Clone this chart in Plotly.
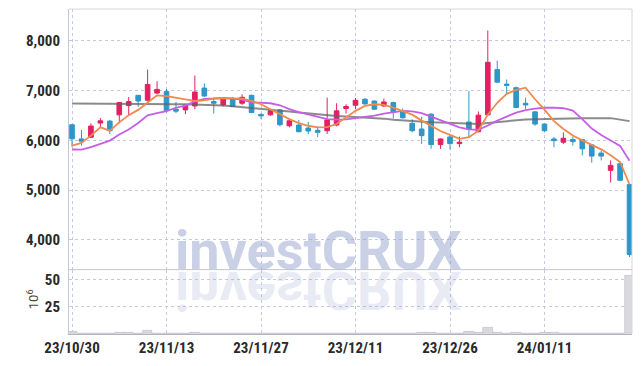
import plotly.graph_objects as go

dates = ["23/10/30", "23/10/31", "23/11/01", "23/11/02", "23/11/03", "23/11/06", "23/11/07", "23/11/08", "23/11/09", "23/11/10",
         "23/11/13", "23/11/14", "23/11/15", "23/11/16", "23/11/17", "23/11/20", "23/11/21", "23/11/22", "23/11/23", "23/11/24",
         "23/11/27", "23/11/28", "23/11/29", "23/11/30", "23/12/01", "23/12/04", "23/12/05", "23/12/06", "23/12/07", "23/12/08",
         "23/12/11", "23/12/12", "23/12/13", "23/12/14", "23/12/15", "23/12/18", "23/12/19", "23/12/20", "23/12/21", "23/12/22",
         "23/12/26", "23/12/27", "23/12/28", "24/01/02", "24/01/03", "24/01/04", "24/01/05", "24/01/08", "24/01/09", "24/01/10",
         "24/01/11", "24/01/12", "24/01/15", "24/01/16", "24/01/17", "24/01/18", "24/01/19", "24/01/22", "24/01/23", "24/01/24"]

open_ = [6313, 6028, 6062, 6347, 6386, 6512, 6699, 6904, 6805, 6950,
         6980, 6626, 6612, 6691, 7050, 6779, 6711, 6839, 6745, 6904,
         6520, 6512, 6612, 6293, 6307, 6247, 6201, 6193, 6307, 6639,
         6705, 6825, 6790, 6691, 6759, 6572, 6341, 6227, 6526, 5914,
         6068, 5934, 6367, 6173, 6512, 7422, 7130, 7058, 6745, 6572,
         6327, 6028, 5962, 6015, 6015, 5908, 5743, 5396, 5530, 5112]
high = [6320, 6207, 6341, 6446, 6406, 6771, 6871, 6910, 7422, 7189,
        7030, 6771, 6725, 7303, 7143, 6859, 6865, 6871, 6924, 6920,
        6540, 6626, 6625, 6426, 6412, 6373, 6281, 6859, 6745, 6725,
        6851, 6851, 6800, 6839, 6780, 6640, 6426, 6472, 6546, 6040,
        6108, 6074, 6990, 6580, 8205, 7602, 7223, 7080, 6859, 6590,
        6340, 6068, 6161, 6074, 6030, 5920, 5795, 5596, 5540, 5120]
low = [5870, 5894, 6048, 6261, 6127, 6341, 6492, 6671, 6779, 6924,
       6560, 6546, 6526, 6626, 6875, 6540, 6679, 6670, 6711, 6545,
       6430, 6492, 6281, 6261, 6160, 6127, 6062, 6127, 6281, 6540,
       6626, 6720, 6610, 6671, 6440, 6440, 6161, 5928, 5829, 5829,
       5815, 5862, 6048, 6160, 6500, 7160, 6944, 6650, 6626, 6293,
       6161, 5862, 5928, 5895, 5695, 5550, 5596, 5151, 5190, 3651]
close = [6030, 5982, 6287, 6392, 6193, 6759, 6779, 6791, 7124, 7024,
         6600, 6586, 6705, 6970, 6890, 6745, 6839, 6679, 6865, 6560,
         6492, 6592, 6313, 6392, 6173, 6187, 6161, 6412, 6592, 6679,
         6805, 6731, 6625, 6771, 6560, 6453, 6193, 6094, 5914, 6028,
         5934, 5962, 6227, 6506, 7568, 7169, 7104, 6659, 6711, 6327,
         6193, 5994, 6042, 5974, 5829, 5683, 5683, 5496, 5197, 3703]

ma_orange = [5894, 5948, 6094, 6261, 6193, 6361, 6506, 6612, 6759, 6904,
             6890, 6851, 6825, 6791, 6805, 6839, 6851, 6845, 6839, 6791,
             6725, 6626, 6526, 6426, 6347, 6293, 6261, 6267, 6327, 6460,
             6592, 6691, 6725, 6711, 6659, 6586, 6516, 6396, 6287, 6187,
             6108, 6028, 6062, 6193, 6516, 6755, 6934, 7014, 7058, 6825,
             6616, 6386, 6227, 6098, 5998, 5908, 5819, 5699, 5564, 5112]
ma_purple = [5815, 5813, 5865, 5928, 5994, 6118, 6217, 6347, 6502, 6546,
             6586, 6655, 6699, 6785, 6835, 6841, 6851, 6839, 6819, 6765,
             6751, 6745, 6705, 6626, 6566, 6520, 6460, 6426, 6416, 6420,
             6446, 6466, 6496, 6536, 6566, 6590, 6580, 6546, 6476, 6406,
             6327, 6261, 6221, 6213, 6297, 6396, 6476, 6556, 6606, 6639,
             6655, 6659, 6645, 6596, 6426, 6237, 6108, 5998, 5888, 5590]
ma_gray = [6739, 6739, 6739, 6739, 6739, 6739, 6739, 6737, 6733, 6729,
           6727, 6725, 6723, 6721, 6715, 6709, 6701, 6685, 6669, 6655,
           6639, 6622, 6602, 6580, 6560, 6540, 6522, 6500, 6488, 6480,
           6472, 6462, 6452, 6436, 6416, 6400, 6386, 6373, 6365, 6357,
           6347, 6341, 6333, 6329, 6347, 6367, 6386, 6406, 6420, 6426,
           6432, 6438, 6444, 6446, 6446, 6446, 6446, 6446, 6416, 6386]

volume_m = [1.8, 0.3, 0.3, 0.3, 0.3, 1.0, 1.0, 0.3, 2.7, 0.3,
            0.3, 0.3, 0.3, 1.0, 0.3, 0.3, 0.3, 0.3, 0.3, 0.3,
            0.3, 0.3, 0.3, 0.3, 0.3, 0.3, 0.3, 0.3, 0.3, 0.3,
            0.3, 0.3, 0.3, 0.3, 0.3, 0.3, 0.3, 0.9, 0.9, 0.3,
            0.3, 0.3, 1.8, 0.9, 5.5, 0.9, 0.3, 0.9, 0.3, 0.3,
            0.9, 0.9, 0.3, 0.3, 0.7, 0.7, 0.7, 0.7, 0.7, 53.4]

price_ticks = [4000, 5000, 6000, 7000, 8000]
volume_ticks = [25, 50]
date_ticks = ["23/10/30", "23/11/13", "23/11/27", "23/12/11", "23/12/26", "24/01/11"]

UP = "#e61e64"
DOWN = "#2e96c8"
GRID = "#c5c9df"
TICKFONT = dict(family="Roboto Condensed, Open Sans Condensed, Roboto, sans-serif", size=15,
                color="#2a2a2a", weight="bold")
VOL_TOP = 0.198

fig = go.Figure()
fig.add_trace(go.Bar(x=dates, y=volume_m, xaxis="x2", yaxis="y2",
                     marker=dict(color="#d9d9df", line=dict(color="#bcbcc6", width=0.6)),
                     showlegend=False, hoverinfo="skip"))
fig.add_trace(go.Scatter(x=dates, y=ma_gray, mode="lines",
                         line=dict(color="rgba(100,100,100,0.75)", width=2), showlegend=False))
fig.add_trace(go.Scatter(x=dates, y=ma_purple, mode="lines",
                         line=dict(color="#c65ee8", width=1.8), showlegend=False))
fig.add_trace(go.Scatter(x=dates, y=ma_orange, mode="lines",
                         line=dict(color="#ef8a4e", width=1.8), showlegend=False))
fig.add_trace(go.Candlestick(x=dates, open=open_, high=high, low=low, close=close,
                             increasing=dict(line=dict(color=UP, width=1), fillcolor=UP),
                             decreasing=dict(line=dict(color=DOWN, width=1), fillcolor=DOWN),
                             showlegend=False))

xrange = [-0.32, 59.26]
common_x = dict(type="category", range=xrange, tickmode="array", tickvals=date_ticks,
                showgrid=True, gridcolor=GRID, griddash="dot", gridwidth=1, zeroline=False,
                ticks="", tickfont=TICKFONT)

fig.update_layout(
    width=642, height=366,
    margin=dict(l=69, r=10, t=9, b=29),
    paper_bgcolor="white", plot_bgcolor="white",
    boxgap=0.3, bargap=0,
    xaxis=dict(**common_x, anchor="y", showticklabels=False, rangeslider=dict(visible=False),
               showline=False),
    xaxis2=dict(**common_x, anchor="y2", matches="x", showticklabels=True,
                showline=True, linecolor="#b4b4be", linewidth=1),
    yaxis=dict(domain=[VOL_TOP, 1], range=[3400, 8640], tickvals=price_ticks, tickformat=",",
               showgrid=True, gridcolor=GRID, griddash="dot", zeroline=False, ticks="",
               tickfont=TICKFONT, showline=True, linecolor="#c3c6d6", linewidth=1,
               ticklabelstandoff=5),
    yaxis2=dict(domain=[0, VOL_TOP], range=[0, 59], tickvals=volume_ticks,
                showgrid=True, gridcolor=GRID, griddash="dot", zeroline=False, ticks="",
                tickfont=TICKFONT, showline=True, linecolor="#c3c6d6", linewidth=1,
                ticklabelstandoff=5),
    shapes=[
        dict(type="line", xref="paper", yref="paper", x0=0, x1=1, y0=1, y1=1,
             line=dict(color="#d6d6de", width=1)),
        dict(type="line", xref="paper", yref="paper", x0=1, x1=1, y0=0, y1=1,
             line=dict(color="#d6d6de", width=1)),
        dict(type="line", xref="paper", yref="paper", x0=0, x1=1, y0=VOL_TOP, y1=VOL_TOP,
             line=dict(color="#c4c4cc", width=1)),
    ],
    annotations=[
        dict(text="investCRUX", xref="paper", yref="paper", x=0.185, y=0.155,
             xanchor="left", yanchor="bottom", showarrow=False,
             font=dict(family="Roboto", size=54, color="rgba(150,163,208,0.5)", weight="bold")),
        dict(text="investCRUX", xref="paper", yref="paper", x=0.185, y=0.155,
             xanchor="left", yanchor="bottom", showarrow=False,
             font=dict(family="Roboto", size=54, color="rgba(150,163,208,0.22)", weight="bold")),
        dict(text="10<sup>6</sup>", xref="paper", yref="paper", x=-0.064, y=0.107,
             xanchor="center", yanchor="middle", showarrow=False, textangle=-90,
             font=dict(family="Roboto, sans-serif", size=13, color="#444")),
    ],
)

post = """
var gd = document.getElementById('{plot_id}');
document.body.style.margin = '0';
var anns = gd.querySelectorAll('g.annotation');
if (anns.length > 1) {
  var svg = gd.querySelector('svg.main-svg');
  var sr = svg.getBoundingClientRect();
  var tr = anns[0].querySelector('text').getBoundingClientRect();
  var baseline = tr.bottom - sr.top - 0.244 * 54;
  var axis = baseline + 1.5;
  anns[1].setAttribute('transform', 'translate(0,' + (2 * axis) + ') scale(1,-1)');
}
"""

fig.write_html("out.html", post_script=post, config={"displayModeBar": False})
